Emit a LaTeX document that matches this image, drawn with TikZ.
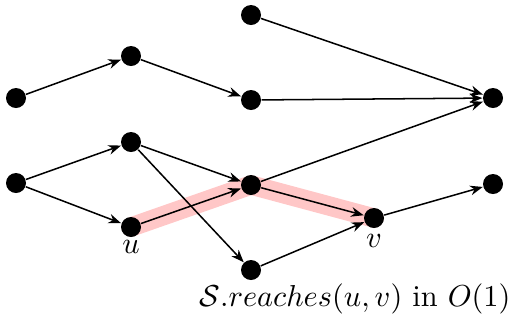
\documentclass[tikz,border=0pt]{standalone}
\usetikzlibrary{arrows.meta}
\begin{document}
\begin{tikzpicture}[x=0.33pt,y=-0.33pt,
  dot/.style={circle,fill=black,inner sep=0pt,minimum size=6.6pt},
  edge/.style={-{Stealth[length=4.2pt,width=3.2pt]},line width=0.5pt},
  hl/.style={line width=6.4pt,red!22,line cap=round,line join=round}]
\useasboundingbox (0,0) rectangle (512,320);
\coordinate (Ec) at (131,227);
\coordinate (Hc) at (251,185);
\coordinate (Jc) at (374,218);
\draw[hl] (Ec) -- (Hc) -- (Jc);
\node[dot] (A) at (16,98) {};
\node[dot] (B) at (16,183) {};
\node[dot] (C) at (131,56) {};
\node[dot] (D) at (131,142) {};
\node[dot] (E) at (Ec) {};
\node[dot] (F) at (251,15) {};
\node[dot] (G) at (251,100) {};
\node[dot] (H) at (Hc) {};
\node[dot] (I) at (251,270) {};
\node[dot] (J) at (Jc) {};
\node[dot] (K) at (493,98) {};
\node[dot] (L) at (493,184) {};
\node (ul) at (131,247) {$u$};
\node (vl) at (374,241) {$v$};
\draw[edge] (A) -- (C);
\draw[edge] (C) -- (G);
\draw[edge] (G) -- (K);
\draw[edge] (F) -- (K);
\draw[edge] (B) -- (D);
\draw[edge] (B) -- (E);
\draw[edge] (D) -- (H);
\draw[edge] (D) -- (I);
\draw[edge] (H) -- (K);
\draw[edge] (E) -- (H);
\draw[edge] (H) -- (J);
\draw[edge] (I) -- (J);
\draw[edge] (J) -- (L);
\node (lab) at (355,299) {$\mathcal{S}.reaches(u,v)$ in $O(1)$};
\end{tikzpicture}
\end{document}
